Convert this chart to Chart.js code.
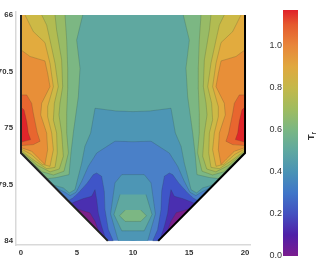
<!DOCTYPE html>
<html>
<head>
<meta charset="utf-8">
<script src="https://cdn.jsdelivr.net/npm/chart.js@4"></script>
<style>
    html, body { margin: 0; padding: 0; background: #fff; }
    canvas { position: absolute; top: 0; }
    #plot { left: 0; }
    #bar { left: 262px; }
</style>
</head>
<body>
<canvas id="plot" width="262" height="267"></canvas>
<canvas id="bar" width="70" height="267"></canvas>
<script>
// tick labels
const xTicks = [0, 5, 10, 15, 20];
const yTicks = [66, 70.5, 75, 79.5, 84];
const barTicks = [0, 0.2, 0.4, 0.6, 0.8, 1.0];

// colour bar, value then colour
const barValues = [0, 0.1, 0.2, 0.3, 0.4, 0.5, 0.6, 0.7, 0.8, 0.9, 1.0, 1.1, 1.17];
const barColors = ['#7b1d8f', '#4f20a8', '#4350c0', '#4076c8', '#4a93b5', '#5fa8a0', '#7ab783', '#a0bc5f', '#c4b84a', '#e0a83e', '#e8863a', '#e55a2e', '#e02029'];

// section outline
const domain = [[0, 66], [0, 77], [7.75, 84], [12.25, 84], [20, 77], [20, 66]];
const wallLeft = [[0, 66], [0, 77], [7.75, 84]];
const wallRight = [[20, 66], [20, 77], [12.25, 84]];

// contour regions, [x, y]
const redLeft = [[0, 73.35], [0.27, 73.56], [0.51, 74.49], [0.65, 75.4], [0.86, 75.93], [0, 76.14]];
const redRight = [[20, 73.35], [19.73, 73.56], [19.49, 74.49], [19.35, 75.4], [19.14, 75.93], [20, 76.14]];
const redOrangeLeft = [[0, 72.37], [0.51, 72.37], [0.95, 73.03], [1.1, 73.83], [1.46, 75.4], [1.7, 76.06], [1.1, 76.33], [0, 76.41]];
const redOrangeRight = [[20, 72.37], [19.49, 72.37], [19.05, 73.03], [18.9, 73.83], [18.54, 75.4], [18.3, 76.06], [18.9, 76.33], [20, 76.41]];
const orangeLeft = [[0, 68.78], [0.8, 69.3], [2.14, 69.66], [2.38, 70.64], [2.59, 71.71], [1.85, 73.03], [1.76, 73.96], [2.29, 75.4], [2.38, 76.73], [2.14, 77.92], [1.7, 77.52], [0.95, 76.86], [0, 76.57]];
const orangeRight = [[20, 68.78], [19.2, 69.3], [17.86, 69.66], [17.62, 70.64], [17.41, 71.71], [18.15, 73.03], [18.24, 73.96], [17.71, 75.4], [17.62, 76.73], [17.86, 77.92], [18.3, 77.52], [19.05, 76.86], [20, 76.57]];
const amberLeft = [[0.36, 66], [1.1, 67.32], [2.14, 68.2], [2.59, 69.85], [2.89, 71.71], [2.38, 73.3], [2.38, 74.1], [2.74, 75.4], [2.89, 76.73], [2.59, 78.06], [1.9, 77.9], [0.9, 77.1], [0, 76.67], [0, 66]];
const amberRight = [[19.64, 66], [18.9, 67.32], [17.86, 68.2], [17.41, 69.85], [17.11, 71.71], [17.62, 73.3], [17.62, 74.1], [17.26, 75.4], [17.11, 76.73], [17.41, 78.06], [18.1, 77.9], [19.1, 77.1], [20, 76.67], [20, 66]];
const yellowLeft = [[1.85, 66], [2.29, 66.8], [2.59, 68], [3.04, 69.85], [3.33, 71.71], [2.98, 73.03], [2.89, 74.36], [3.18, 75.4], [3.24, 77], [3.04, 78.14], [2.3, 78.25], [1.2, 77.6], [0.3, 77], [0, 76.78], [0, 66]];
const yellowRight = [[18.15, 66], [17.71, 66.8], [17.41, 68], [16.96, 69.85], [16.67, 71.71], [17.02, 73.03], [17.11, 74.36], [16.82, 75.4], [16.76, 77], [16.96, 78.14], [17.7, 78.25], [18.8, 77.6], [19.7, 77], [20, 76.78], [20, 66]];
const yellowGreenLeft = [[3.04, 66], [3.18, 67.19], [3.63, 69.58], [3.72, 71.71], [3.48, 73.03], [3.39, 73.96], [3.63, 75.4], [3.78, 77.26], [3.42, 78.27], [2.6, 78.5], [1.5, 78], [0.5, 77.25], [0, 76.9], [0, 66]];
const yellowGreenRight = [[16.96, 66], [16.82, 67.19], [16.37, 69.58], [16.28, 71.71], [16.52, 73.03], [16.61, 73.96], [16.37, 75.4], [16.22, 77.26], [16.58, 78.27], [17.4, 78.5], [18.5, 78], [19.5, 77.25], [20, 76.9], [20, 66]];
const lightGreenLeft = [[3.93, 66], [4.08, 68], [4.17, 70.24], [4.17, 71.84], [4.08, 73.83], [4.08, 75.4], [4.23, 77], [3.84, 78.45], [2.9, 78.75], [1.9, 78.5], [0.85, 77.65], [0, 77], [0, 66]];
const lightGreenRight = [[16.07, 66], [15.92, 68], [15.83, 70.24], [15.83, 71.84], [15.92, 73.83], [15.92, 75.4], [15.77, 77], [16.16, 78.45], [17.1, 78.75], [18.1, 78.5], [19.15, 77.65], [20, 77], [20, 66]];
const greenLeft = [[5.51, 66], [4.97, 68], [5.27, 70.24], [5.12, 72.5], [4.67, 75.4], [4.46, 77], [4.29, 78.72], [3.2, 78.95], [2.3, 79.05], [0, 77], [0, 66]];
const greenRight = [[14.49, 66], [15.03, 68], [14.73, 70.24], [14.88, 72.5], [15.33, 75.4], [15.54, 77], [15.71, 78.72], [16.8, 78.95], [17.7, 79.05], [20, 77], [20, 66]];
const tealMain = [[0, 66], [0, 77], [2.8, 79.52], [3.78, 79.78], [4.32, 80.18], [4.82, 79.92], [5.12, 78.85], [5.42, 77.79], [5.71, 76.46], [6.22, 75.4], [6.61, 73.43], [8.5, 73.65], [10, 73.7], [11.5, 73.65], [13.39, 73.43], [13.78, 75.4], [14.29, 76.46], [14.58, 77.79], [14.88, 78.85], [15.18, 79.92], [15.68, 80.18], [16.22, 79.78], [17.2, 79.52], [20, 77], [20, 66]];
const paleBlueMain = [[0, 66], [0, 77], [3.04, 79.74], [3.93, 80.13], [4.38, 80.39], [4.91, 80.13], [5.42, 79.25], [6.01, 78.06], [6.76, 77], [8.39, 76.06], [10, 76.1], [11.61, 76.06], [13.24, 77], [13.99, 78.06], [14.58, 79.25], [15.09, 80.13], [15.62, 80.39], [16.07, 80.13], [16.96, 79.74], [20, 77], [20, 66]];
const royalLeft = [[4.2, 80.79], [4.6, 80.6], [5.12, 80.18], [5.92, 79.38], [6.46, 78.72], [6.76, 78.59], [7.2, 78.85], [7.44, 80.05], [7.5, 81.51], [7.8, 83.1], [8.24, 84], [7.75, 84]];
const royalRight = [[15.8, 80.79], [15.4, 80.6], [14.88, 80.18], [14.08, 79.38], [13.54, 78.72], [13.24, 78.59], [12.8, 78.85], [12.56, 80.05], [12.5, 81.51], [12.2, 83.1], [11.76, 84], [12.25, 84]];
const indigoLeft = [[4.45, 81.02], [5.57, 80.63], [6.31, 80.45], [6.61, 79.92], [6.76, 80.71], [6.9, 81.77], [7.2, 82.84], [7.59, 83.9], [7.75, 84]];
const indigoRight = [[15.55, 81.02], [14.43, 80.63], [13.69, 80.45], [13.39, 79.92], [13.24, 80.71], [13.1, 81.77], [12.8, 82.84], [12.41, 83.9], [12.25, 84]];
const purpleLeft = [[4.91, 81.43], [6.16, 81.77], [6.61, 82.44], [6.82, 82.97], [6.95, 83.28]];
const purpleRight = [[15.09, 81.43], [13.84, 81.77], [13.39, 82.44], [13.18, 82.97], [13.05, 83.28]];
const coreBlue = [[8.69, 84], [8, 81.85], [8.39, 79.38], [9, 78.72], [11, 78.72], [11.61, 79.38], [12, 81.85], [11.31, 84]];
const coreTeal = [[8.84, 80.31], [8.3, 81.9], [9, 83.2], [11, 83.2], [11.7, 81.9], [11.16, 80.31]];
const coreGreen = [[9.3, 81.55], [8.8, 82], [9.3, 82.45], [10.7, 82.45], [11.2, 82], [10.7, 81.55]];

const contourColor = 'rgba(40, 60, 50, 0.26)';

// painted in this order, later ones cover earlier ones
const layers = [
    [domain, '#4a80c8', 0],
    [royalLeft, '#3f55c8', 1], [royalRight, '#3f55c8', 1],
    [indigoLeft, '#4a2fb0', 1], [indigoRight, '#4a2fb0', 1],
    [purpleLeft, '#7b1f8a', 1], [purpleRight, '#7b1f8a', 1],
    [paleBlueMain, '#4d96b5', 1], [coreBlue, '#4d96b5', 1],
    [tealMain, '#5fa8a0', 1], [coreTeal, '#5fa8a0', 1],
    [coreGreen, '#7cb783', 1],
    [greenLeft, '#7cb783', 1], [greenRight, '#7cb783', 1],
    [lightGreenLeft, '#98bb66', 1], [lightGreenRight, '#98bb66', 1],
    [yellowGreenLeft, '#b2bc52', 1], [yellowGreenRight, '#b2bc52', 1],
    [yellowLeft, '#cdb946', 1], [yellowRight, '#cdb946', 1],
    [amberLeft, '#e2ab3e', 1], [amberRight, '#e2ab3e', 1],
    [orangeLeft, '#e88f38', 1], [orangeRight, '#e88f38', 1],
    [redOrangeLeft, '#e8662f', 1], [redOrangeRight, '#e8662f', 1],
    [redLeft, '#e0252a', 1], [redRight, '#e0252a', 1]
];

const toPoints = (list) => list.map(([x, y]) => ({ x, y }));

// small tension keeps Chart.js off its fast path, which merges points sharing an x
const regionSets = layers.map(([points, color, width]) => ({
    data: toPoints(points),
    backgroundColor: color,
    borderColor: contourColor,
    borderWidth: width * 0.8,
    fill: 'shape',
    tension: 0.001,
    pointRadius: 0
}));

const wallSets = [wallLeft, wallRight].map((points, i) => ({
    data: toPoints(points),
    borderColor: i === 0 ? '#222222' : '#000000',
    borderWidth: 2,
    fill: false,
    tension: 0.001,
    pointRadius: 0
}));

const tickFont = { family: '"Liberation Sans"', size: 7.8, weight: 'bold' };

// first dataset ends up on top in Chart.js
new Chart(document.getElementById('plot'), {
    type: 'line',
    data: { datasets: wallSets.concat(regionSets.reverse()) },
    options: {
        responsive: false,
        animation: false,
        devicePixelRatio: 1,
        layout: { padding: { top: 12, right: 12, left: 0, bottom: 0 } },
        plugins: { legend: { display: false }, tooltip: { enabled: false } },
        scales: {
            x: {
                type: 'linear',
                min: -0.446,
                max: 20.446,
                grid: { display: false, tickLength: 2, tickColor: '#cccccc' },
                border: { color: '#d9d9d9', width: 1.5 },
                afterBuildTicks: (axis) => { axis.ticks = xTicks.map((value) => ({ value })); },
                afterFit: (axis) => { axis.height = 22; },
                ticks: { color: '#333333', font: tickFont, padding: 1, maxRotation: 0, autoSkip: false, callback: (v) => String(v) }
            },
            y: {
                type: 'linear',
                reverse: true,
                min: 65.76,
                max: 84.33,
                grid: { display: false, tickLength: 2, tickColor: '#cccccc' },
                border: { color: '#d9d9d9', width: 1.5 },
                afterBuildTicks: (axis) => { axis.ticks = yTicks.map((value) => ({ value })); },
                afterFit: (axis) => { axis.width = 16; },
                ticks: { color: '#333333', font: tickFont, padding: 1, autoSkip: false, callback: (v) => String(v) }
            }
        }
    }
});

// colour bar
const barGradient = (context) => {
    const { ctx, chartArea } = context.chart;
    if (!chartArea) return barColors[0];
    const g = ctx.createLinearGradient(0, chartArea.bottom, 0, chartArea.top);
    barValues.forEach((v, i) => g.addColorStop(v / barValues[barValues.length - 1], barColors[i]));
    return g;
};

const barTitle = {
    id: 'barTitle',
    afterDraw(chart) {
        const { ctx } = chart;
        ctx.save();
        ctx.translate(52, 136);
        ctx.rotate(-Math.PI / 2);
        ctx.fillStyle = '#333333';
        ctx.textBaseline = 'alphabetic';
        ctx.textAlign = 'left';
        ctx.font = 'bold 9px "Liberation Sans"';
        ctx.fillText('T', -4, 0);
        ctx.font = 'bold 6.5px "Liberation Sans"';
        ctx.fillText('r', 1.5, 2);
        ctx.restore();
    }
};

new Chart(document.getElementById('bar'), {
    type: 'bar',
    data: {
        labels: ['Tr'],
        datasets: [{ data: [barValues[barValues.length - 1]], backgroundColor: barGradient, barPercentage: 1, categoryPercentage: 1 }]
    },
    options: {
        responsive: false,
        animation: false,
        devicePixelRatio: 1,
        layout: { padding: { top: 10, right: 34, bottom: 11, left: 0 } },
        plugins: { legend: { display: false }, tooltip: { enabled: false } },
        scales: {
            x: { display: false },
            y: {
                min: 0,
                max: barValues[barValues.length - 1],
                grid: { display: false, drawTicks: false },
                border: { display: false },
                afterBuildTicks: (axis) => { axis.ticks = barTicks.map((value) => ({ value })); },
                afterFit: (axis) => { axis.width = 21; },
                ticks: { color: '#333333', font: { family: '"Liberation Sans"', size: 9 }, padding: 1, autoSkip: false, callback: (v) => v.toFixed(1) }
            }
        }
    },
    plugins: [barTitle]
});
</script>
</body>
</html>
